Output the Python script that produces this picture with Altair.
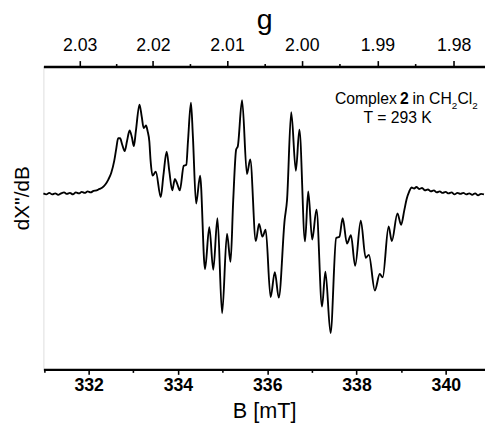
import altair as alt
import pandas as pd

# ---- spectrum: field B (mT) and derivative signal (arb. units)
B = [330.987, 331.053, 331.119, 331.185, 331.251, 331.317, 331.383, 331.449, 331.515, 331.581,
     331.648, 331.714, 331.780, 331.846, 331.912, 331.978, 332.044, 332.110, 332.176, 332.242,
     332.308, 332.374, 332.441, 332.507, 332.573, 332.617, 332.661, 332.705, 332.749, 332.808,
     332.859, 332.918, 332.969, 333.013, 333.057, 333.139, 333.189, 333.233, 333.284, 333.322,
     333.359, 333.388, 333.432, 333.504, 333.615, 333.674, 333.747, 333.806, 333.872, 333.932,
     333.982, 334.042, 334.130, 334.187, 334.225, 334.291, 334.335, 334.407, 334.496, 334.606,
     334.703, 334.791, 334.885, 334.989, 335.099, 335.178, 335.238, 335.304, 335.341, 335.436,
     335.546, 335.619, 335.744, 335.817, 335.892, 335.965, 336.075, 336.170, 336.258, 336.390,
     336.443, 336.537, 336.641, 336.720, 336.846, 336.918, 337.007, 337.103, 337.227, 337.302,
     337.418, 337.544, 337.617, 337.689, 337.786, 337.874, 337.969, 338.095, 338.205, 338.277,
     338.410, 338.520, 338.586, 338.718, 338.791, 338.916, 338.998, 339.070, 339.121, 339.181,
     339.231, 339.291, 339.341, 339.401, 339.467, 339.533, 339.599, 339.665, 339.731, 339.797,
     339.863, 339.929, 339.995, 340.062, 340.128, 340.194, 340.260, 340.326, 340.392, 340.458,
     340.524, 340.590, 340.656, 340.722, 340.788, 340.854]
signal = [-1, -2, -0.5, -2, -1, -2.5, -1, 0, -1.5, -0.5,
          -2, 0, -1, 0.5, -0.5, 1, 0, 1.5, 2, 3.5,
          5, 8, 13, 20, 32, 44, 55, 55, 49, 42,
          52, 63, 56, 47, 62, 89.3, 77, 65.3, 68, 62,
          52, 32, 17, 21, -4.7, 17, 41.3, 22, 2, 13.7,
          9, 2, 27, 28, 52, 91.3, 57, -11.3, 17, -78,
          -35.3, -78.7, -26.3, -123, -42, -70.7, -8, 43.7, 47, 93.7,
          18.7, 33.5, -49.5, -32, -45, -38, -106.5, -81, -107, -28,
          -8, 81.5, 22, 63.7, -49.7, 1, -48, -17.5, -116, -80.5,
          -143, -46.3, -45, -26.3, -52, -43.5, -74.7, -28.7, -66.5, -63.5,
          -99.7, -83, -86.3, -34.7, -49.5, -21.3, -33, -18, -7, 1,
          5, 4, 5.5, 3.5, 4.5, 2, 3, 1, 2, 0,
          1, -0.5, 0.5, -1, 0, -2, -0.5, -1.5, -0.5, -2,
          -1, -2.5, -1, -3, -1.5, -2]

# ---- axes
b_ticks = [331, 332, 333, 334, 335, 336, 337, 338, 339, 340]
g_ticks = [2.03, 2.025, 2.02, 2.015, 2.01, 2.005, 2.00, 1.995, 1.99, 1.985, 1.98]
K = 673.55  # g * B (mT) at this microwave frequency
b_domain = [330.987, 340.877]
i_domain = [-180, 128]
y_title = "dX''/dB"

# ---- annotation
ann_text = ["Complex", "2", "in CH", "2", "Cl", "2", "T = 293 K"]
ann_B = [338.905, 338.971, 339.253, 340.134, 340.260, 340.592, 338.921]
ann_I = [90.3, 90.3, 90.3, 85, 90.3, 85, 70.3]
ann_size = [16, 16, 16, 10, 16, 10, 16]
ann_weight = ["normal", "bold", "normal", "normal", "normal", "normal", "normal"]
ann_align = ["right", "left", "left", "left", "left", "left", "center"]

FONT = "Liberation Sans"

spec = pd.DataFrame({"B": B, "I": signal})
gdf = pd.DataFrame({"B": [K / g for g in g_ticks]})
ann = pd.DataFrame({"B": ann_B, "I": ann_I, "t": ann_text})
ytdf = pd.DataFrame({"t": [y_title]})

xscale = alt.Scale(domain=b_domain, nice=False, zero=False)
yscale = alt.Scale(domain=i_domain, nice=False, zero=False)

line = alt.Chart(spec).mark_line(color="black", strokeWidth=1.9, interpolate="monotone").encode(
    x=alt.X("B:Q", scale=xscale,
            axis=alt.Axis(orient="bottom", values=b_ticks, title="B [mT]",
                          labelExpr="datum.value % 2 == 0 ? format(datum.value, 'd') : ''",
                          tickSize={"condition": {"test": "datum.value % 2 == 0", "value": 5}, "value": 3},
                          tickWidth=1.6, tickColor="black", domainColor="black", domainWidth=2.4,
                          grid=False, labelFontSize=18, labelFontWeight="bold", labelColor="black",
                          labelPadding=2, labelFont=FONT, titleFont=FONT, titleFontSize=22,
                          titleFontWeight="normal", titleColor="black", titlePadding=7)),
    y=alt.Y("I:Q", scale=yscale,
            axis=alt.Axis(orient="left", ticks=False, labels=False, grid=False,
                          domainColor="black", domainWidth=2.4, title=None)),
)

major_test = f"abs({K}/datum.value*100 - round({K}/datum.value*100)) < 0.2"
top = alt.Chart(gdf).mark_point(opacity=0).encode(
    x=alt.X("B:Q", scale=xscale,
            axis=alt.Axis(orient="top", values=[K / g for g in g_ticks], title="g",
                          labelExpr=f"{major_test} ? format({K}/datum.value, '.2f') : ''",
                          tickSize={"condition": {"test": major_test, "value": 6}, "value": 3},
                          tickWidth=1.6, tickColor="black", domainColor="black", domainWidth=2.4,
                          grid=False, labelFontSize=18, labelColor="black", labelFont=FONT,
                          labelPadding=6, titleFont=FONT, titleFontSize=29,
                          titleFontWeight="normal", titleColor="black", titlePadding=3)),
)

ytitle = alt.Chart(ytdf).mark_text(font=FONT, fontSize=21, angle=270, align="center",
                                    baseline="middle", color="black").encode(
    x=alt.value(-21), y=alt.value(134), text="t:N")

texts = []
for i in range(len(ann_text)):
    sub = ann.iloc[[i]]
    texts.append(
        alt.Chart(sub).mark_text(font=FONT, fontSize=int(ann_size[i]), fontWeight=ann_weight[i],
                                 align=ann_align[i], baseline="alphabetic", color="black").encode(
            x=alt.X("B:Q", scale=xscale, axis=None),
            y=alt.Y("I:Q", scale=yscale, axis=None),
            text="t:N")
    )

chart = alt.layer(line, top, ytitle, *texts).resolve_axis(x="independent").properties(
    width=449, height=308,
    autosize=alt.AutoSizeParams(type="none"),
    padding={"left": 36, "top": 56, "right": 0, "bottom": 52},
).configure_view(stroke=None).configure(background="white")

chart.save("out.html", embed_options={"renderer": "svg", "actions": False})
